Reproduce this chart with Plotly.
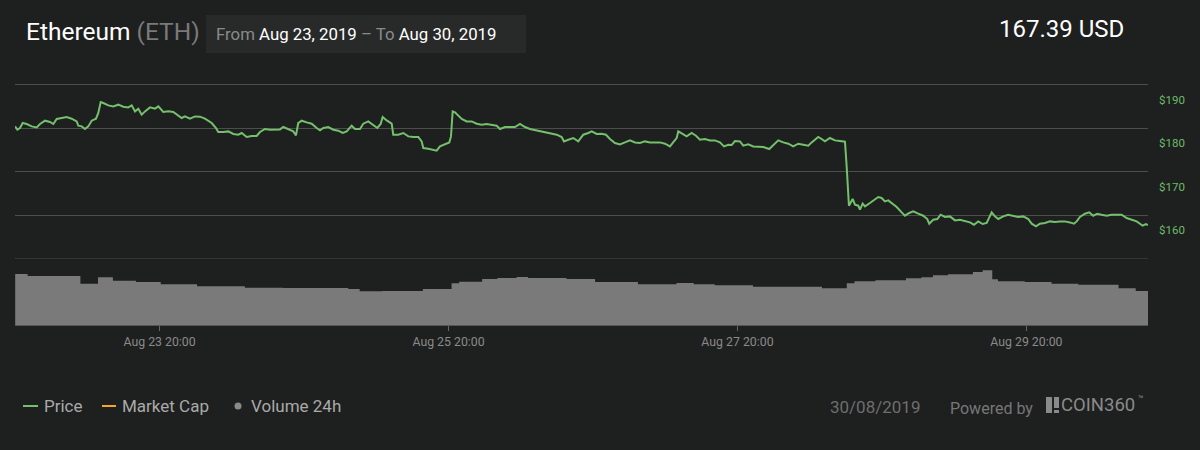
import pandas as pd
import plotly.graph_objects as go

# ---------------- data ----------------
start_time = pd.Timestamp("2019-08-22 20:00")
end_hours = 188.2

price_hours = [
    0.0, 0.37, 0.81, 1.26, 1.93, 2.76, 3.59, 4.14, 4.97, 5.80, 6.35, 6.91, 7.74, 8.57, 9.40,
    10.23, 10.50, 11.06, 11.61, 12.16, 12.72, 13.44, 13.82, 14.22, 14.65, 15.48, 16.31, 17.14,
    17.97, 18.80, 19.37, 19.92, 20.47, 21.03, 21.58, 22.41, 23.24, 23.79, 24.62, 25.45, 26.28,
    26.84, 27.67, 28.22, 29.05, 29.88, 30.71, 31.54, 32.09, 32.66, 33.37, 33.75, 34.58, 35.42,
    36.25, 37.08, 37.64, 38.47, 39.30, 40.13, 40.68, 41.51, 42.34, 43.17, 44.00, 44.55, 45.38,
    46.21, 46.66, 47.04, 47.21, 47.61, 48.44, 49.27, 50.10, 50.65, 51.20, 52.03, 52.86, 53.69,
    54.42, 55.08, 55.91, 56.46, 57.29, 57.84, 58.67, 59.40, 60.17, 60.73, 61.06, 61.73, 62.56,
    62.82, 63.65, 64.49, 65.32, 66.15, 66.98, 67.54, 67.81, 68.64, 69.47, 70.03, 70.58, 71.41,
    72.13, 72.41, 72.69, 73.07, 73.62, 74.19, 75.02, 75.85, 76.68, 77.51, 78.34, 79.17, 80.00,
    80.55, 81.38, 82.21, 83.04, 83.87, 84.70, 85.53, 86.64, 87.48, 88.31, 89.14, 89.97, 90.80,
    91.18, 91.89, 92.72, 93.55, 94.39, 95.22, 95.78, 96.61, 97.44, 98.16, 98.82, 99.65, 100.48,
    101.31, 102.14, 102.97, 103.80, 104.63, 105.47, 106.30, 107.13, 107.96, 108.79, 109.45,
    109.90, 110.17, 110.73, 111.56, 112.39, 113.11, 113.77, 114.60, 115.43, 116.26, 117.09,
    117.76, 118.47, 119.04, 119.58, 120.42, 120.96, 121.79, 122.62, 123.46, 124.29, 125.28,
    125.95, 126.78, 127.61, 128.44, 129.27, 130.10, 130.93, 131.76, 132.32, 132.87, 133.42,
    133.99, 134.53, 135.37, 136.20, 137.03, 137.86, 138.14, 138.52, 139.14, 139.52, 140.07,
    140.35, 140.80, 141.18, 142.01, 142.84, 143.39, 143.95, 144.50, 145.05, 145.61, 146.45,
    147.28, 147.82, 148.54, 149.20, 150.03, 150.86, 151.53, 151.86, 152.52, 153.19, 153.75,
    154.47, 155.30, 156.13, 156.96, 157.79, 158.62, 159.29, 160.00, 160.73, 161.40, 162.23,
    162.77, 163.32, 164.15, 164.98, 165.81, 166.64, 167.48, 168.31, 168.87, 169.59, 170.25,
    171.08, 171.91, 172.74, 173.57, 174.40, 175.23, 175.90, 176.35, 176.89, 177.72, 178.44,
    179.10, 179.77, 180.50, 181.33, 182.16, 182.99, 183.82, 184.65, 185.48, 186.31, 186.86,
    187.31, 187.86, 188.19,
]
price_usd = [
    180.37, 179.61, 180.00, 181.15, 180.92, 180.37, 180.14, 180.92, 181.68, 181.38, 180.92,
    182.07, 182.30, 182.53, 182.14, 181.52, 180.53, 180.37, 179.77, 180.37, 181.68, 182.14,
    183.45, 185.98, 185.75, 185.20, 184.97, 185.36, 184.90, 184.74, 185.20, 183.82, 184.44,
    183.06, 183.82, 184.74, 184.44, 184.97, 183.68, 183.82, 183.68, 183.06, 182.30, 182.67,
    182.14, 182.67, 182.60, 182.14, 181.68, 181.15, 180.00, 179.08, 179.08, 179.22, 178.62,
    178.46, 178.85, 177.93, 178.16, 178.16, 179.08, 179.77, 179.61, 179.61, 179.68, 180.23,
    179.68, 179.22, 178.30, 181.15, 181.29, 181.68, 181.29, 180.99, 180.00, 179.45, 180.00,
    180.23, 179.61, 179.38, 178.85, 179.22, 180.53, 179.77, 179.77, 180.99, 181.52, 180.76,
    180.00, 180.92, 182.53, 181.75, 180.99, 178.46, 178.46, 178.85, 178.07, 177.93, 177.93,
    176.92, 175.40, 175.24, 175.01, 174.78, 175.77, 176.32, 176.69, 178.07, 183.82, 183.59,
    182.83, 182.07, 181.52, 181.52, 180.99, 180.76, 180.92, 180.76, 180.53, 179.77, 180.23,
    180.23, 180.23, 180.92, 180.23, 179.77, 179.45, 179.22, 178.99, 178.69, 178.46, 177.93,
    176.92, 177.31, 177.70, 176.92, 178.46, 178.85, 179.22, 178.62, 178.69, 178.46, 177.47,
    176.55, 176.23, 176.69, 177.15, 176.69, 176.55, 176.92, 176.69, 176.69, 176.69, 176.39,
    175.77, 176.92, 177.70, 179.22, 178.69, 178.07, 178.85, 178.23, 177.31, 177.47, 177.15,
    177.15, 176.69, 175.77, 176.16, 176.09, 177.01, 176.92, 175.93, 176.23, 175.77, 175.77,
    175.63, 175.17, 176.16, 177.15, 176.69, 176.39, 175.77, 176.39, 176.16, 175.93, 176.69,
    177.31, 177.93, 177.47, 176.92, 177.70, 177.15, 177.01, 176.85, 171.17, 162.14, 163.68,
    162.37, 162.14, 161.22, 162.60, 161.98, 162.76, 163.52, 164.14, 163.91, 163.13, 163.36,
    162.76, 161.84, 160.60, 159.84, 160.46, 160.83, 160.30, 159.84, 159.08, 158.00, 158.92,
    159.08, 160.07, 159.54, 159.68, 158.76, 158.92, 158.53, 158.30, 157.77, 158.53, 157.93,
    158.16, 160.60, 159.68, 159.08, 159.68, 160.07, 159.84, 159.54, 159.68, 159.08, 158.00,
    157.38, 158.00, 158.16, 158.53, 158.39, 158.53, 158.53, 158.30, 158.00, 158.53, 159.54,
    160.30, 160.60, 159.84, 160.30, 160.07, 159.84, 160.07, 160.00, 160.07, 159.31, 158.92,
    158.53, 158.00, 157.54, 157.93, 157.70,
]

volume_hours = [
    0.0, 2.08, 10.85, 13.77, 16.25, 20.07, 24.19, 30.23, 38.17, 44.53, 55.35, 57.24, 61.06,
    67.74, 72.51, 73.77, 77.59, 80.13, 83.31, 85.22, 91.58, 96.35, 103.47, 109.87, 112.74,
    116.23, 122.57, 134.04, 138.16, 139.44, 142.92, 147.99, 150.56, 152.47, 154.97, 159.12,
    160.73, 162.33, 163.27, 167.72, 172.18, 176.63, 183.31, 186.16, 188.2,
]
volume_bn = [
    7.67, 7.37, 6.21, 7.17, 6.66, 6.47, 6.12, 5.82, 5.61, 5.56, 5.41, 5.07, 5.11,
    5.41, 6.27, 6.51, 6.92, 7.07, 7.22, 7.07, 6.92, 6.45, 6.12, 6.32, 6.12,
    5.97, 5.76, 5.52, 6.27, 6.57, 6.72, 7.02, 7.17, 7.47, 7.62, 7.97,
    8.23, 6.87, 6.57, 6.47, 6.21, 6.06, 5.52, 5.11, 5.11,
]

x_tick_times = ["2019-08-23 20:00", "2019-08-25 20:00", "2019-08-27 20:00", "2019-08-29 20:00"]
x_tick_labels = ["Aug 23 20:00", "Aug 25 20:00", "Aug 27 20:00", "Aug 29 20:00"]
y_tick_vals = [150, 160, 170, 180, 190]
y_tick_labels = ["", "$160", "$170", "$180", "$190"]

coin_name = "Ethereum"
coin_symbol = "(ETH)"
date_from = "Aug 23, 2019"
date_to = "Aug 30, 2019"
current_price = "167.39 USD"
snapshot_date = "30/08/2019"

# ---------------- figure ----------------
W, H = 1200, 450
BG = "#1e1f1f"
GRID = "#4d4d4d"
GREEN = "#74c06d"
FONT = "Roboto"
PAD = 0.6           # range padding so the edge gridlines (150, 190) are drawn
PX_PER_USD = 4.35


def px(x):
    return x / W


def py(y):
    return 1 - y / H


price_t = start_time + pd.to_timedelta(price_hours, unit="h")
vol_t = start_time + pd.to_timedelta(volume_hours, unit="h")
end_time = start_time + pd.to_timedelta(end_hours, unit="h")

fig = go.Figure()
fig.add_trace(go.Scatter(
    x=vol_t, y=volume_bn, xaxis="x", yaxis="y2", mode="lines",
    line=dict(shape="hv", width=0, color="#7a7a7a"),
    fill="tozeroy", fillcolor="#7a7a7a", name="Volume 24h", showlegend=False,
))
fig.add_trace(go.Scatter(
    x=price_t, y=price_usd, xaxis="x", yaxis="y", mode="lines",
    line=dict(color=GREEN, width=2), name="Price", showlegend=False,
))

fig.update_layout(
    width=W, height=H, margin=dict(l=0, r=0, t=0, b=0, pad=0, autoexpand=False),
    paper_bgcolor=BG, plot_bgcolor=BG,
    font=dict(family=FONT, color="#cccccc"),
    xaxis=dict(
        domain=[px(15.1), px(1148)], range=[start_time, end_time], anchor="y2",
        automargin=False,
        showgrid=False, zeroline=False, showline=True, linecolor="#555555", linewidth=1,
        ticks="outside", ticklen=5, tickcolor="#666666",
        tickvals=x_tick_times, ticktext=x_tick_labels,
        tickfont=dict(size=12.3, color="#8a8a8a", family=FONT),
    ),
    yaxis=dict(
        domain=[py(258.5 + PAD * PX_PER_USD), py(84.5 - PAD * PX_PER_USD)],
        range=[150 - PAD, 190 + PAD], anchor="x", side="right",
        automargin=False,
        tickvals=y_tick_vals, ticktext=y_tick_labels, showgrid=True, gridcolor=GRID,
        gridwidth=1, zeroline=False, showline=False, ticks="",
        ticklabelshift=15, ticklabelstandoff=10,
        tickfont=dict(size=11.5, color="#6fbb69", family=FONT),
    ),
    yaxis2=dict(
        domain=[py(325), py(258.5)], range=[0, 10], anchor="x", visible=False,
        automargin=False,
    ),
    showlegend=False,
)

shapes = [
    dict(type="rect", xref="paper", yref="paper", x0=px(206), x1=px(526), y0=py(53), y1=py(15),
         fillcolor="#282a2a", line=dict(width=0), layer="below"),
    # legend markers
    dict(type="line", xref="paper", yref="paper", x0=px(23), x1=px(38), y0=py(406), y1=py(406),
         line=dict(color=GREEN, width=2)),
    dict(type="line", xref="paper", yref="paper", x0=px(102), x1=px(116), y0=py(406), y1=py(406),
         line=dict(color="#f5a623", width=2)),
    dict(type="circle", xref="paper", yref="paper", x0=px(234.5), x1=px(241.5), y0=py(409.5),
         y1=py(402.5), fillcolor="#8a8a8a", line=dict(width=0)),
    # logo block
    dict(type="rect", xref="paper", yref="paper", x0=px(1046), x1=px(1052), y0=py(413), y1=py(397),
         fillcolor="#8a8a8a", line=dict(width=0)),
    dict(type="rect", xref="paper", yref="paper", x0=px(1054), x1=px(1059), y0=py(408), y1=py(397),
         fillcolor="#8a8a8a", line=dict(width=0)),
    dict(type="rect", xref="paper", yref="paper", x0=px(1054), x1=px(1059), y0=py(413), y1=py(410),
         fillcolor="#8a8a8a", line=dict(width=0)),
]

ann = []


def text(x, y, s, size, color, xanchor="left"):
    ann.append(dict(xref="paper", yref="paper", x=px(x), y=py(y), text=s, showarrow=False,
                    xanchor=xanchor, yanchor="middle", font=dict(size=size, color=color, family=FONT)))


text(24, 31, f"{coin_name} <span style='color:#7a7a7a'>{coin_symbol}</span>", 24.5, "#ffffff")
text(214, 34, f"<span style='color:#8a8a8a'>From</span> {date_from} "
              f"<span style='color:#8a8a8a'>– To</span> {date_to}", 16.8, "#ffffff")
text(1126, 29, current_price, 24, "#ffffff", xanchor="right")

text(42, 406, "Price", 17, "#aaaaaa")
text(120, 406, "Market Cap", 17, "#aaaaaa")
text(249, 406, "Volume 24h", 17, "#aaaaaa")
text(828, 407, snapshot_date, 17, "#6e6e6e")
text(948, 408, "Powered by", 16, "#777777")
text(1059, 405, "COIN360", 18.5, "#8a8a8a")
text(1136, 399, "™", 9, "#8a8a8a")

fig.update_layout(shapes=shapes, annotations=ann)

fig.write_html(
    "out.html",
    config={"displayModeBar": False},
    post_script="document.body.style.margin='0';document.body.style.background='#1e1f1f';",
)
